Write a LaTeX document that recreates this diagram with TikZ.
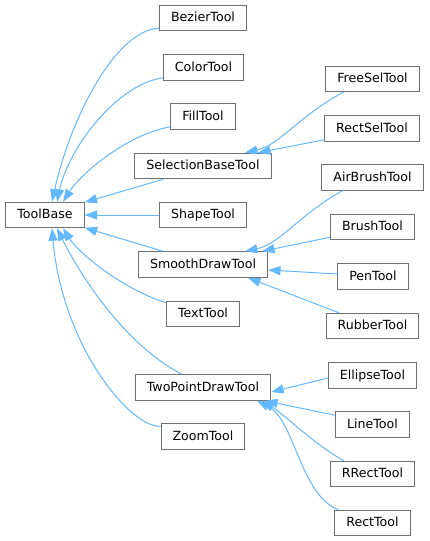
\documentclass[tikz,border=0pt]{standalone}
\usepackage{fontspec}
\setmainfont{DejaVu Sans}
\usepackage{xcolor}
\usetikzlibrary{positioning, arrows.meta, calc}

\definecolor{edgeblue}{HTML}{63B8FF}
\definecolor{boxgrey}{HTML}{707070}

\tikzset{
    cls/.style={draw=boxgrey, line width=1pt, fill=white, rectangle,
        inner xsep=11.5pt, inner ysep=0pt, minimum height=25.5pt,
        text height=9.5pt, text depth=2.5pt, font=\fontsize{12.6}{15}\selectfont},
    inherit/.style={draw=edgeblue, line width=1pt,
        {Triangle[length=12.5pt, width=9pt, fill=edgeblue]}-}
}

\begin{document}
\begin{tikzpicture}[x=1pt, y=-1pt]

    \useasboundingbox (0,0) rectangle (429,541);

    % Base class and its direct children
    \node[cls] (toolbase) at (45,215) {ToolBase};
    \node[cls] (bezier) at (203,18) {BezierTool};
    \node[cls] (color) at (203.5,67.5) {ColorTool};
    \node[cls] (fill) at (203,116.5) {FillTool};
    \node[cls] (selbase) at (203,166) {SelectionBaseTool};
    \node[cls] (shape) at (203,215) {ShapeTool};
    \node[cls] (smooth) at (203,264.5) {SmoothDrawTool};
    \node[cls] (texttool) at (203,314) {TextTool};
    \node[cls] (twopoint) at (203,387.5) {TwoPointDrawTool};
    \node[cls] (zoom) at (203,436.5) {ZoomTool};

    % Third column
    \node[cls] (freesel) at (372.5,79) {FreeSelTool};
    \node[cls] (rectsel) at (372,128.5) {RectSelTool};
    \node[cls] (airbrush) at (372.5,177.5) {AirBrushTool};
    \node[cls] (brush) at (372.5,227) {BrushTool};
    \node[cls] (pen) at (373,276.5) {PenTool};
    \node[cls] (rubber) at (372.5,326) {RubberTool};
    \node[cls] (ellipse) at (372.5,375.5) {EllipseTool};
    \node[cls] (line) at (372.5,424.5) {LineTool};
    \node[cls] (rrect) at (372.5,474) {RRectTool};
    \node[cls] (rect) at (372.5,523) {RectTool};

    % Inheritance from ToolBase
    \draw[inherit] ([xshift=7pt]toolbase.north) .. controls (70,120) and (115,30) .. ([yshift=3pt]bezier.south west);
    \draw[inherit] ([xshift=12pt]toolbase.north) .. controls (68,150) and (115,85) .. ([yshift=3pt]color.south west);
    \draw[inherit] ([xshift=18pt]toolbase.north) .. controls (80,175) and (125,135) .. ([yshift=3pt]fill.south west);
    \draw[inherit] ([yshift=-0.5pt]toolbase.north east) -- ([xshift=29pt]selbase.south west);
    \draw[inherit] (toolbase.east) -- (shape.west);
    \draw[inherit] ([yshift=0.5pt]toolbase.south east) -- ([xshift=25pt]smooth.north west);
    \draw[inherit] ([xshift=18pt]toolbase.south) .. controls (80,255) and (125,290) .. ([yshift=-2pt]texttool.north west);
    \draw[inherit] ([xshift=12pt]toolbase.south) .. controls (80,275) and (125,345) .. ([xshift=47pt]twopoint.north west);
    \draw[inherit] ([xshift=7pt]toolbase.south) .. controls (62,345) and (130,428) .. ([yshift=-3pt]zoom.north west);

    % Inheritance from SelectionBaseTool
    \draw[inherit] ([xshift=42pt]selbase.north) .. controls (280,145) and (300,115) .. ([xshift=18pt]freesel.south west);
    \draw[inherit] ([xshift=55pt]selbase.north) -- ([yshift=2pt]rectsel.south west);

    % Inheritance from SmoothDrawTool
    \draw[inherit] ([xshift=42pt]smooth.north) .. controls (280,244) and (300,214) .. ([xshift=21pt]airbrush.south west);
    \draw[inherit] ([xshift=59pt]smooth.north) -- ([yshift=3pt]brush.south west);
    \draw[inherit] ([yshift=-5.5pt]smooth.east) -- ([yshift=2.5pt]pen.west);
    \draw[inherit] ([xshift=45pt]smooth.south) -- ([xshift=13pt]rubber.north west);

    % Inheritance from TwoPointDrawTool
    \draw[inherit] ([yshift=-4.5pt]twopoint.east) -- ([yshift=-2.5pt]ellipse.west);
    \draw[inherit] ([xshift=62pt]twopoint.south) -- ([yshift=-4pt]line.north west);
    \draw[inherit] ([xshift=59pt]twopoint.south) .. controls (285,415) and (315,445) .. ([xshift=14pt]rrect.north west);
    \draw[inherit] ([xshift=54pt]twopoint.south) .. controls (295,420) and (300,495) .. ([xshift=4pt]rect.north west);

\end{tikzpicture}
\end{document}
